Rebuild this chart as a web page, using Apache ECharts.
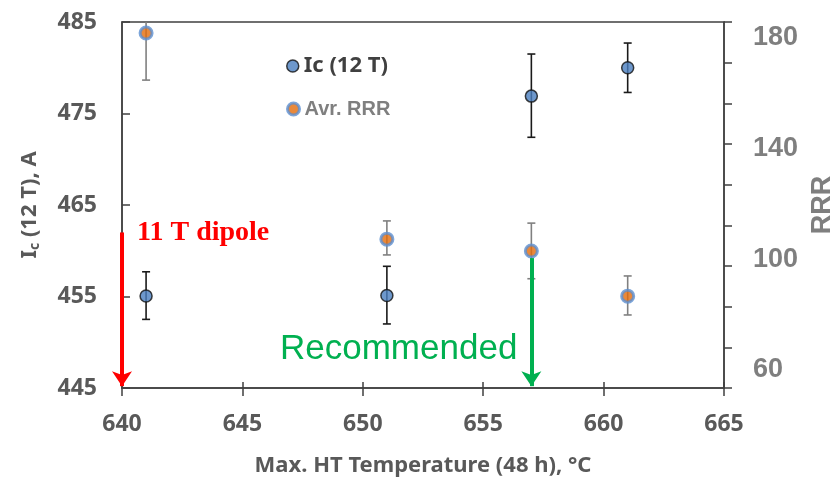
<!DOCTYPE html>
<html>
<head>
<meta charset="utf-8">
<script src="https://cdn.jsdelivr.net/npm/echarts@6/dist/echarts.min.js"></script>
<style>
  html, body { margin: 0; padding: 0; background: #fff; }
  #chart { width: 832px; height: 477px; }
</style>
</head>
<body>
<div id="chart"></div>
<script>
// values
const temps = [641, 651, 657, 661]
const icValues = [455.05, 455.1, 476.9, 480.0]
const icLow = [452.5, 452.0, 472.4, 477.3]
const icHigh = [457.7, 458.3, 481.5, 482.7]
const rrrValues = [181.8, 107.3, 103.0, 86.7]
const rrrLow = [164.8, 101.6, 93.0, 79.9]
const rrrHigh = [199.0, 113.9, 113.1, 94.0]
const rrrLabelValues = [60, 100, 140, 180]
const rrrTickValues = [53.5, 68.2, 82.9, 97.6, 112.3, 127.0, 141.7, 156.4, 171.1, 185.8]
const dipoleArrow = [[640, 462.0], [640, 445.2]]
const recommendedArrow = [[657, 459.2], [657, 445.2]]

const axisColor = '#404040'
const labelGray = '#595959'
const rrrGray = '#7f7f7f'

function errorBars(color, capHalf) {
  return (params, api) => {
    const top = api.coord([api.value(0), api.value(2)])
    const bottom = api.coord([api.value(0), api.value(1)])
    const style = { stroke: color, lineWidth: 1.6 }
    return {
      type: 'group',
      children: [
        { type: 'line', shape: { x1: top[0], y1: top[1], x2: bottom[0], y2: bottom[1] }, style },
        { type: 'line', shape: { x1: top[0] - capHalf, y1: top[1], x2: top[0] + capHalf, y2: top[1] }, style },
        { type: 'line', shape: { x1: bottom[0] - capHalf, y1: bottom[1], x2: bottom[0] + capHalf, y2: bottom[1] }, style }
      ]
    }
  }
}

const icStyle = { color: '#4a7ebf', borderColor: '#111', borderWidth: 1.5 }
const rrrStyle = { color: '#e46c0a', borderColor: '#5b8fd1', borderWidth: 3 }

const chart = echarts.init(document.getElementById('chart'))
chart.setOption({
  animation: false,
  backgroundColor: '#fff',
  grid: {
    left: 122, right: 108, top: 22, bottom: 89,
    containLabel: false, outerBoundsMode: 'none',
    show: true, borderColor: axisColor, borderWidth: 1.5
  },
  legend: [{
    left: 281, top: 50, itemWidth: 12, itemHeight: 12, icon: 'circle',
    data: [{ name: 'Ic (12 T)', itemStyle: icStyle }],
    textStyle: { color: axisColor, fontFamily: 'Noto Sans', fontWeight: 'bold', fontSize: 22 }
  }, {
    left: 281, top: 94, itemWidth: 12, itemHeight: 12, icon: 'circle',
    data: [{ name: 'Avr. RRR', itemStyle: rrrStyle }],
    textStyle: { color: rrrGray, fontFamily: 'Liberation Sans', fontWeight: 'bold', fontSize: 20 }
  }],
  xAxis: [{
    type: 'value', min: 640, max: 665, interval: 5,
    name: 'Max. HT Temperature (48 h), °C', nameLocation: 'middle', nameGap: 67,
    nameTextStyle: { color: labelGray, fontFamily: 'Noto Sans', fontWeight: 'bold', fontSize: 22 },
    axisLine: { lineStyle: { color: axisColor, width: 1.5 } },
    axisTick: { inside: false, length: 8, lineStyle: { color: axisColor, width: 1.5 } },
    axisLabel: { margin: 25, color: labelGray, fontFamily: 'Noto Sans', fontWeight: 'bold', fontSize: 23 },
    splitLine: { show: false }
  }, {
    type: 'value', min: 640, max: 665, interval: 5, position: 'bottom',
    axisLine: { show: false },
    axisTick: { inside: true, length: 6, lineStyle: { color: axisColor, width: 1.5 } },
    axisLabel: { show: false },
    splitLine: { show: false }
  }],
  yAxis: [{
    type: 'value', min: 445, max: 485, interval: 10,
    name: '{a|I}{s|c}{a| (12 T), A}', nameLocation: 'middle', nameRotate: 90, nameGap: 80,
    nameTextStyle: {
      rich: {
        a: { color: labelGray, fontFamily: 'Noto Sans', fontWeight: 'bold', fontSize: 22 },
        s: { color: labelGray, fontFamily: 'Noto Sans', fontWeight: 'bold', fontSize: 14, verticalAlign: 'bottom', padding: [10, 0, 0, 0] }
      }
    },
    axisLine: { show: true, lineStyle: { color: axisColor, width: 1.5 } },
    axisTick: { show: true, inside: true, length: 8, lineStyle: { color: axisColor, width: 1.5 } },
    axisLabel: { margin: 25, color: labelGray, fontFamily: 'Noto Sans', fontWeight: 'bold', fontSize: 23 },
    splitLine: { show: false }
  }, {
    type: 'value', min: 53.5, max: 185.8, position: 'right',
    name: 'RRR', nameLocation: 'middle', nameRotate: 90, nameGap: 84,
    nameTextStyle: { color: rrrGray, fontFamily: 'Liberation Sans', fontWeight: 'bold', fontSize: 27 },
    axisLine: { show: true, lineStyle: { color: axisColor, width: 1.5 } },
    axisTick: { show: true, inside: false, length: 8, customValues: rrrTickValues, lineStyle: { color: axisColor, width: 1.5 } },
    axisLabel: { margin: 29, customValues: rrrLabelValues, color: rrrGray, fontFamily: 'Liberation Sans', fontWeight: 'bold', fontSize: 27 },
    splitLine: { show: false }
  }],
  series: [{
    type: 'custom', yAxisIndex: 1, clip: true, silent: true, z: 2,
    renderItem: errorBars('#808080', 4),
    data: temps.map((t, i) => [t, rrrLow[i], rrrHigh[i]])
  }, {
    type: 'custom', yAxisIndex: 0, clip: true, silent: true, z: 2,
    renderItem: errorBars('#1a1a1a', 4),
    data: temps.map((t, i) => [t, icLow[i], icHigh[i]])
  }, {
    name: 'Avr. RRR', type: 'scatter', yAxisIndex: 1, symbolSize: 12, z: 3,
    itemStyle: rrrStyle,
    data: temps.map((t, i) => [t, rrrValues[i]])
  }, {
    name: 'Ic (12 T)', type: 'scatter', yAxisIndex: 0, symbolSize: 12, z: 4,
    itemStyle: icStyle,
    data: temps.map((t, i) => [t, icValues[i]]),
    markLine: {
      silent: true, animation: false, symbol: ['none', 'arrow'], symbolSize: 15,
      label: { show: false },
      data: [
        [{ coord: dipoleArrow[0], lineStyle: { color: '#ff0000', width: 4, type: 'solid' } }, { coord: dipoleArrow[1] }],
        [{ coord: recommendedArrow[0], lineStyle: { color: '#00b050', width: 4, type: 'solid' } }, { coord: recommendedArrow[1] }]
      ]
    }
  }],
  graphic: [{
    type: 'text', left: 137, top: 219,
    style: { text: '11 T dipole', fill: '#ff0000', font: 'bold 28px "Liberation Serif"' }
  }, {
    type: 'text', left: 280, top: 332,
    style: { text: 'Recommended', fill: '#00b050', font: '35px "Liberation Sans"' }
  }]
})
</script>
</body>
</html>
